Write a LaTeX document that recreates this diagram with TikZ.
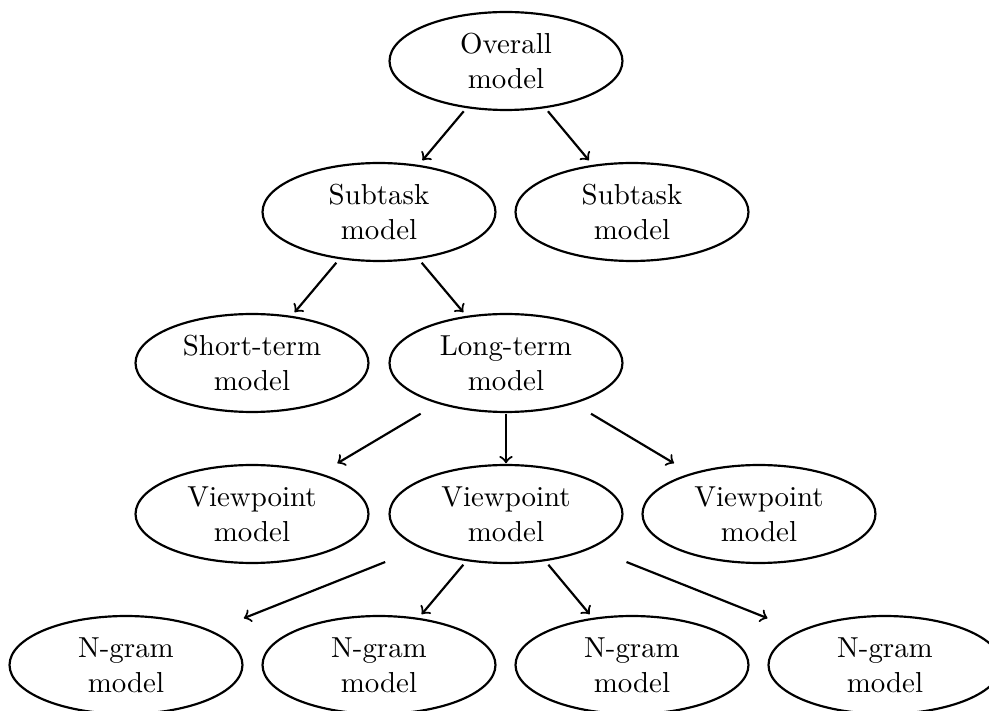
\documentclass[tikz,border=0pt]{standalone}
\usetikzlibrary{shapes.geometric,calc}
\begin{document}
\begin{tikzpicture}[x=0.346pt,y=-0.346pt,
  model/.style={ellipse,draw,line width=0.75pt,minimum width=80.6pt,
    minimum height=33.9pt,inner sep=0pt,align=center},
  link/.style={->,line width=0.75pt}]
\useasboundingbox (0,0) rectangle (989,711);
\clip (0,0) rectangle (989,711);

% level 0
\node[model] (overall) at (506,61) {Overall\\model};
% level 1
\node[model] (subA) at (379,212) {Subtask\\model};
\node[model] (subB) at (632,212) {Subtask\\model};
% level 2
\node[model] (short) at (252,363) {Short-term\\model};
\node[model] (long)  at (506,363) {Long-term\\model};
% level 3
\node[model] (viewA) at (252,514) {Viewpoint\\model};
\node[model] (viewB) at (506,514) {Viewpoint\\model};
\node[model] (viewC) at (759,514) {Viewpoint\\model};
% level 4
\node[model] (ngA) at (126,665) {N-gram\\model};
\node[model] (ngB) at (379,665) {N-gram\\model};
\node[model] (ngC) at (632,665) {N-gram\\model};
\node[model] (ngD) at (885,665) {N-gram\\model};

% connectors run along the centre-to-centre line, between fractions \a and \b
\foreach \p/\c/\a/\b in {overall/subA/0.333/0.658, overall/subB/0.333/0.658,
                         subA/short/0.336/0.664, subA/long/0.336/0.664,
                         long/viewA/0.336/0.664, long/viewB/0.336/0.664,
                         long/viewC/0.336/0.664,
                         viewB/ngA/0.318/0.69, viewB/ngB/0.336/0.664,
                         viewB/ngC/0.336/0.664, viewB/ngD/0.318/0.69}
  \draw[link] ($(\p.center)!\a!(\c.center)$) -- ($(\p.center)!\b!(\c.center)$);
\end{tikzpicture}
\end{document}
